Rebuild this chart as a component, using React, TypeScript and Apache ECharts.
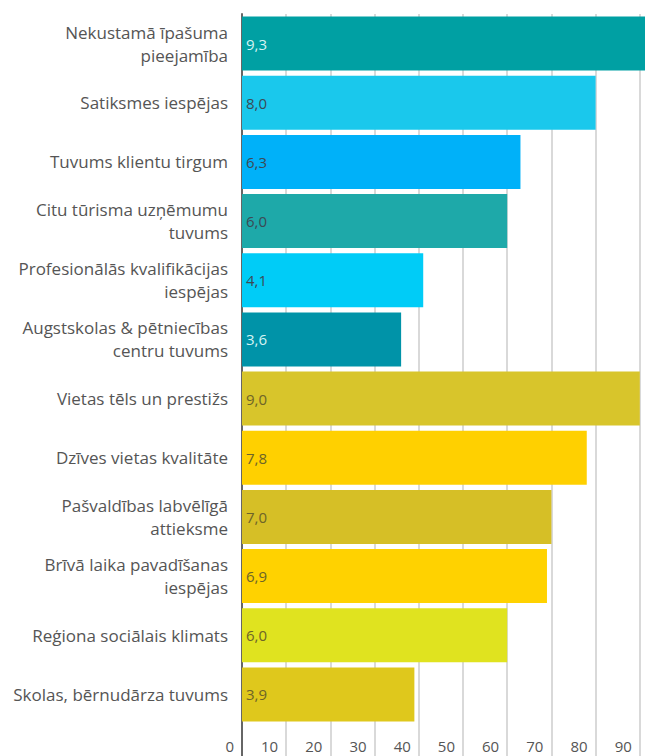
import React, { useEffect, useRef } from "react";
import * as echarts from "echarts";

const categories = [
  "Nekustamā īpašuma\npieejamība",
  "Satiksmes iespējas",
  "Tuvums klientu tirgum",
  "Citu tūrisma uzņēmumu\ntuvums",
  "Profesionālās kvalifikācijas\niespējas",
  "Augstskolas & pētniecības\ncentru tuvums",
  "Vietas tēls un prestižs",
  "Dzīves vietas kvalitāte",
  "Pašvaldības labvēlīgā\nattieksme",
  "Brīvā laika pavadīšanas\niespējas",
  "Reģiona sociālais klimats",
  "Skolas, bērnudārza tuvums",
];

const values = [9.3, 8.0, 6.3, 6.0, 4.1, 3.6, 9.0, 7.8, 7.0, 6.9, 6.0, 3.9];

const tickLabels = ["0", "10", "20", "30", "40", "50", "60", "70", "80", "90"];

const barColors = [
  "#00A0A3",
  "#1AC8EC",
  "#00B1F9",
  "#1EA9A9",
  "#00CCF7",
  "#0093A8",
  "#D8C52B",
  "#FFD000",
  "#D6BF26",
  "#FFD200",
  "#E0E31F",
  "#DFC81C",
];

const labelColors = [
  "#d6f3f3",
  "#3b4a55",
  "#3b4a55",
  "#3b4a55",
  "#3b4a55",
  "#d6f3f3",
  "#6d6428",
  "#6d6428",
  "#6d6428",
  "#6d6428",
  "#6d6428",
  "#6d6428",
];

const FONT = "'Open Sans', 'Noto Sans', sans-serif";

export default function App() {
  const ref = useRef<HTMLDivElement>(null);

  useEffect(() => {
    if (!ref.current) return;
    const chart = echarts.init(ref.current, undefined, { renderer: "svg" });
    const axisCommon = {
      type: "value" as const,
      min: 0,
      max: 10,
      interval: 1,
      axisLine: { show: false },
      axisTick: { show: false },
      splitLine: { show: true, lineStyle: { color: "#cccccc", width: 1.5 } },
    };
    chart.setOption({
      animation: false,
      textStyle: { fontFamily: FONT },
      grid: [
        { left: 242, top: 14, height: 710, right: 16 },
        { left: 242, top: 724, bottom: 0, right: 16 },
      ],
      xAxis: [
        { ...axisCommon, gridIndex: 0, axisLabel: { show: false } },
        {
          ...axisCommon,
          gridIndex: 1,
          position: "bottom",
          axisLabel: {
            show: true,
            inside: true,
            margin: 3,
            align: "right",
            padding: [0, 8, 0, 0],
            color: "#555555",
            fontSize: 15,
            fontFamily: FONT,
            formatter: (v: number) => tickLabels[Math.round(v)] ?? "",
          },
        },
      ],
      yAxis: [
        {
          type: "category",
          gridIndex: 0,
          inverse: true,
          data: categories,
          axisLine: { show: true, lineStyle: { color: "#666666", width: 2 } },
          axisTick: { show: false },
          splitLine: { show: false },
          axisLabel: {
            color: "#555555",
            fontSize: 17,
            margin: 14,
            lineHeight: 23,
            fontFamily: FONT,
          },
        },
        {
          type: "value",
          gridIndex: 1,
          axisLine: { show: true, lineStyle: { color: "#666666", width: 2 } },
          axisTick: { show: false },
          axisLabel: { show: false },
          splitLine: { show: false },
        },
      ],
      series: [
        {
          type: "bar",
          xAxisIndex: 0,
          yAxisIndex: 0,
          barCategoryGap: "8.7%",
          data: values.map((v, i) => ({
            value: v,
            itemStyle: { color: barColors[i] },
            label: { color: labelColors[i] },
          })),
          label: {
            show: true,
            position: "insideLeft",
            distance: 4,
            fontSize: 15,
            fontFamily: FONT,
            formatter: (p: any) => Number(p.value).toFixed(1).replace(".", ","),
          },
        },
      ],
    });
    return () => chart.dispose();
  }, []);

  return (
    <div
      style={{
        position: "absolute",
        left: 0,
        top: 0,
        width: 645,
        height: 756,
        overflow: "hidden",
      }}
    >
      <div ref={ref} style={{ width: 700, height: 756 }} />
    </div>
  );
}
